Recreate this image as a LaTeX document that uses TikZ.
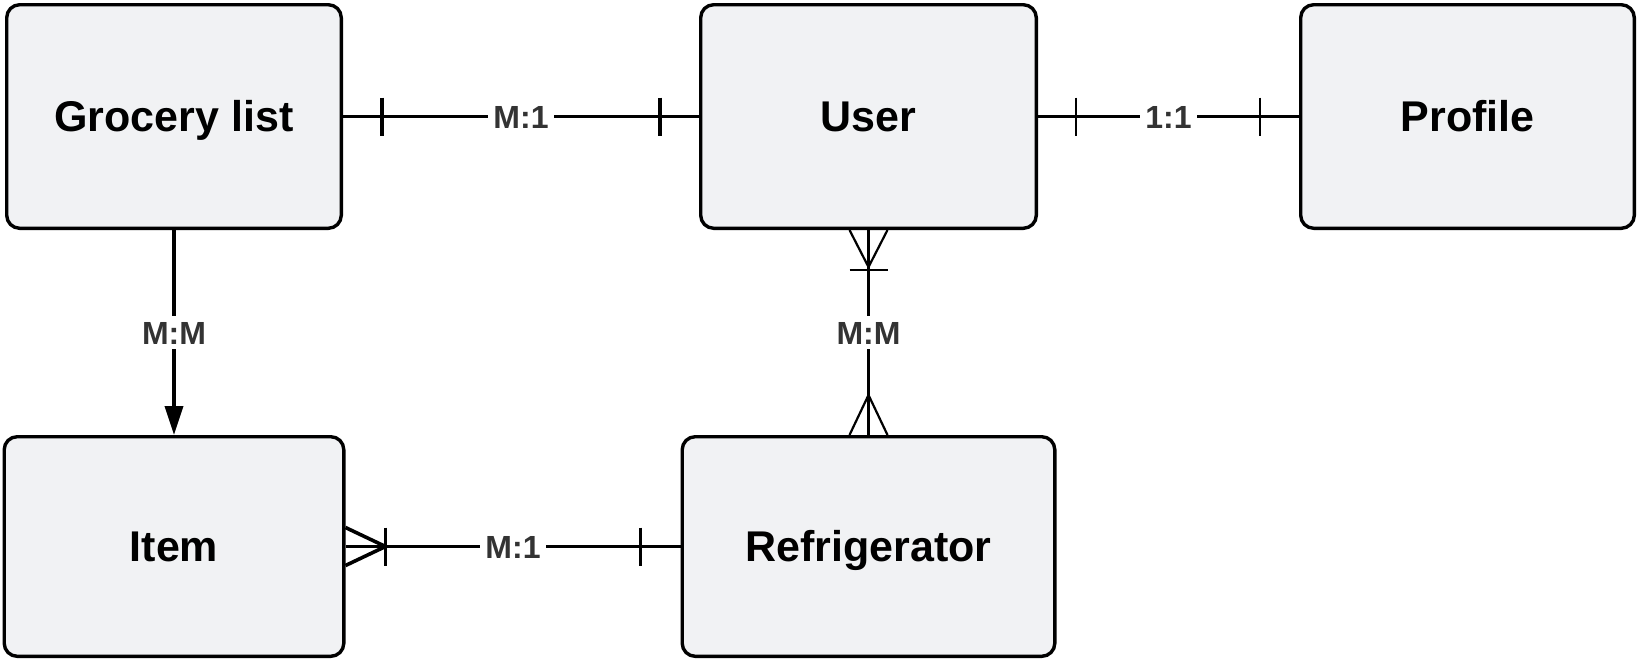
\documentclass[tikz,border=0pt]{standalone}
\usepackage{fontspec}
\setmainfont{Liberation Sans}
\usepackage{tikz}
\usetikzlibrary{positioning,calc,arrows.meta}
\definecolor{boxfill}{HTML}{F1F2F4}
\definecolor{lblgray}{HTML}{333333}
\tikzstyle{ent}=[draw, fill=boxfill, rounded corners=6.5pt, line width=1.7pt, font=\fontsize{21.5}{25}\selectfont\bfseries, text height=15.4pt, text depth=0pt, minimum width=167.3pt, minimum height=111.8pt]
\tikzstyle{ent1}=[ent, minimum height=109.8pt]
\tikzstyle{rel}=[fill=white, text=lblgray, inner sep=2.5pt, text height=11.5pt, text depth=0pt, font=\fontsize{16}{18}\selectfont\bfseries]
\tikzstyle{heavy}=[line width=1.8pt]
\tikzstyle{light}=[line width=1.1pt]

\begin{document}
\begin{tikzpicture}[x=0.5pt,y=-0.5pt,>=latex]
\useasboundingbox (0,0) rectangle (1637,660);

\node[ent] at (174,116.5) (grocery) {Grocery list};
\node[ent, right=178pt of grocery, minimum width=167.8pt] (user) {User};
\node[ent, right=130.5pt of user, minimum width=166.8pt] (profile) {Profile};
\node[ent1, below=102.5pt of grocery, minimum width=169.8pt] (item) {Item};
\node[ent1, right=167.5pt of item, minimum width=186.3pt] (fridge) {Refrigerator};

% grocery list -- user
\draw[heavy] (grocery) -- node[rel] {M:1} (user);
\draw[heavy] ($(grocery.east)+(39,-19)$) -- ++(0,38);
\draw[heavy] ($(user.west)+(-39,-19)$) -- ++(0,38);

% user -- profile
\draw[light] (user) -- node[rel] {1:1} (profile);
\draw[light] ($(user.east)+(38,-19)$) -- ++(0,38);
\draw[light] ($(profile.west)+(-39,-19)$) -- ++(0,38);

% grocery list -> item
\draw[heavy,-{Triangle[length=14.5pt,width=9pt]}] (grocery.south) -- node[rel] {M:M} (item.north);

% user -- refrigerator
\draw[light] (user.south) -- (fridge.north);
\draw[light] ($(user.south)+(-19,0)$) -- ($(user.south)+(0,37)$) -- ($(user.south)+(19,0)$);
\draw[light] ($(user.south)+(-19,40)$) -- ++(38,0);
\draw[heavy] ($(user.south)+(0,40)$) -- node[rel] {M:M} ($(fridge.north)+(0,-40)$);
\draw[light] ($(fridge.north)+(-19,0)$) -- ($(fridge.north)+(0,-40)$) -- ($(fridge.north)+(19,0)$);

% item -- refrigerator
\draw[heavy] (item) -- node[rel] {M:1} (fridge);
\draw[heavy] ($(item.east)+(0,-19)$) -- ($(item.east)+(40,0)$) -- ($(item.east)+(0,19)$);
\draw[heavy] ($(item.east)+(40,-19)$) -- ++(0,38);
\draw[heavy] ($(fridge.west)+(-40,-19)$) -- ++(0,38);
\end{tikzpicture}
\end{document}
